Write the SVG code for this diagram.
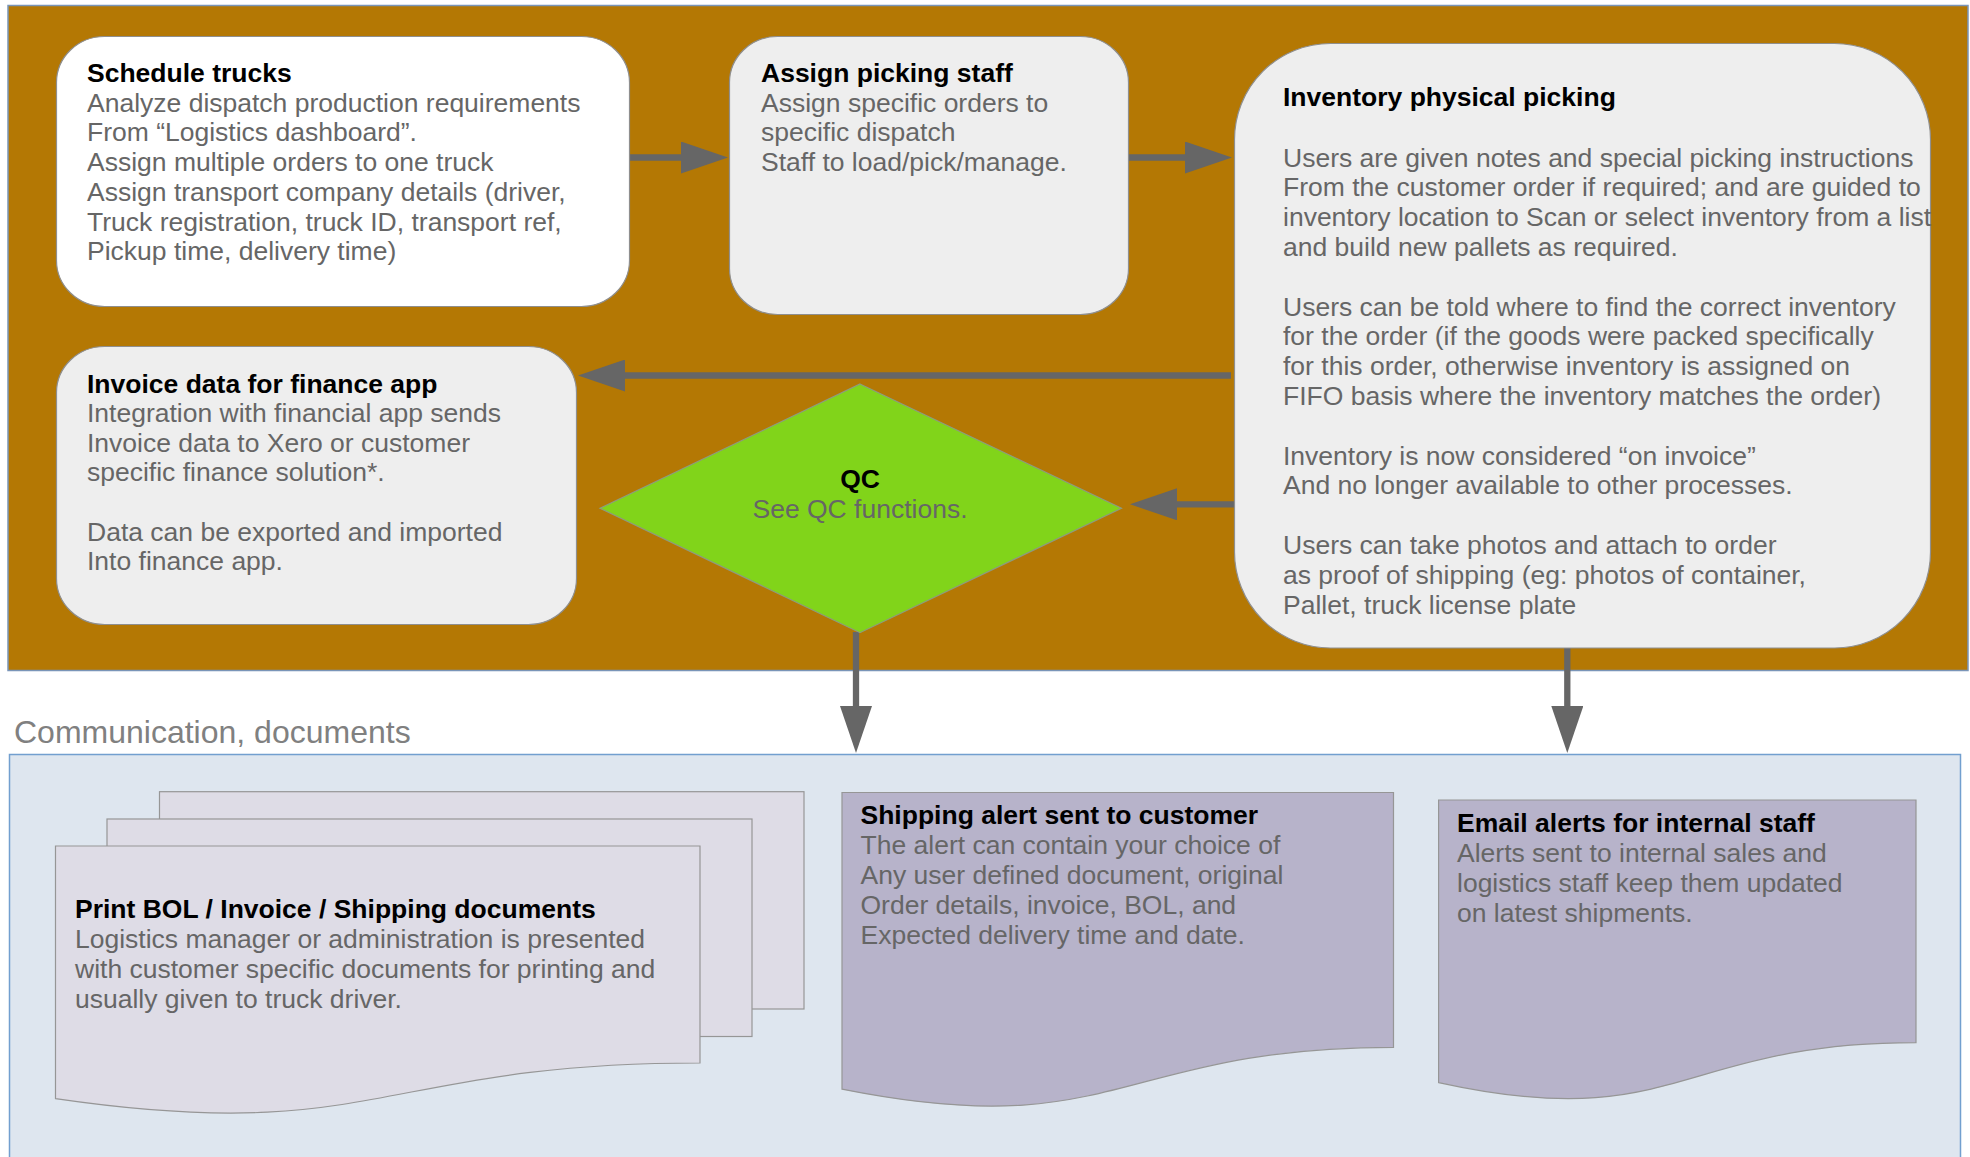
<svg xmlns="http://www.w3.org/2000/svg" width="1970" height="1157" viewBox="0 0 1970 1157">
<style>
  text { font-family: "Liberation Sans", Arial, sans-serif; font-size: 26.5px; }
  .t { font-weight: bold; fill: #000000; }
  .b { fill: #666666; }
  .box { stroke: #8f8f8f; stroke-width: 1.2; }
  .doc { stroke: #969696; stroke-width: 1.2; }
  .conn { stroke: #666666; stroke-width: 6.3; fill: none; }
</style>
<defs>
  <marker id="ah" markerUnits="userSpaceOnUse" markerWidth="48" markerHeight="32" refX="1" refY="16" orient="auto" viewBox="0 0 48 32">
    <path d="M0,0 L47,16 L0,32 Z" fill="#666666"/>
  </marker>
</defs>

<g id="lane-top">
  <rect x="8" y="5.5" width="1960" height="665" fill="#b47804" stroke="#7a95b8" stroke-width="1.5"/>
</g>
<g id="lane-bottom">
  <text x="14" y="743" style="font-size:32px" fill="#808080">Communication, documents</text>
  <rect x="9.5" y="754.5" width="1951" height="420" fill="#dee6ef" stroke="#729fcf" stroke-width="1.5"/>
</g>

<g id="connectors">
  <line class="conn" x1="630" y1="157.5" x2="682" y2="157.5" marker-end="url(#ah)"/>
  <line class="conn" x1="1129" y1="157.5" x2="1186" y2="157.5" marker-end="url(#ah)"/>
  <line class="conn" x1="1231" y1="375.5" x2="624" y2="375.5" marker-end="url(#ah)"/>
  <line class="conn" x1="1234" y1="504.3" x2="1176" y2="504.3" marker-end="url(#ah)"/>
  <line class="conn" x1="856" y1="632" x2="856" y2="707" marker-end="url(#ah)"/>
  <line class="conn" x1="1567.3" y1="648" x2="1567.3" y2="707" marker-end="url(#ah)"/>
</g>

<g id="schedule-trucks">
  <rect class="box" x="56.5" y="36.5" width="573" height="270" rx="48" ry="46" fill="#ffffff"/>
  <text class="t" x="87" y="82">Schedule trucks</text>
  <text class="b" x="87" y="111.5">Analyze dispatch production requirements</text>
  <text class="b" x="87" y="141.2">From “Logistics dashboard”.</text>
  <text class="b" x="87" y="171">Assign multiple orders to one truck</text>
  <text class="b" x="87" y="200.8">Assign transport company details (driver,</text>
  <text class="b" x="87" y="230.6">Truck registration, truck ID, transport ref,</text>
  <text class="b" x="87" y="260.4">Pickup time, delivery time)</text>
</g>

<g id="assign-picking-staff">
  <rect class="box" x="729.5" y="36.5" width="399" height="278" rx="48" ry="46" fill="#eeeeee"/>
  <text class="t" x="761" y="82">Assign picking staff</text>
  <text class="b" x="761" y="111.5">Assign specific orders to</text>
  <text class="b" x="761" y="141.2">specific dispatch</text>
  <text class="b" x="761" y="171">Staff to load/pick/manage.</text>
</g>

<g id="inventory-physical-picking">
  <rect class="box" x="1234.5" y="43.5" width="696" height="604.5" rx="96" ry="96" fill="#eeeeee"/>
  <text class="t" x="1283" y="106">Inventory physical picking</text>
  <text class="b" x="1283" y="166.5">Users are given notes and special picking instructions</text>
  <text class="b" x="1283" y="196.3">From the customer order if required; and are guided to</text>
  <text class="b" x="1283" y="226.1">inventory location to Scan or select inventory from a list</text>
  <text class="b" x="1283" y="255.9">and build new pallets as required.</text>
  <text class="b" x="1283" y="315.5">Users can be told where to find the correct inventory</text>
  <text class="b" x="1283" y="345.3">for the order (if the goods were packed specifically</text>
  <text class="b" x="1283" y="375.1">for this order, otherwise inventory is assigned on</text>
  <text class="b" x="1283" y="404.9">FIFO basis where the inventory matches the order)</text>
  <text class="b" x="1283" y="464.5">Inventory is now considered “on invoice”</text>
  <text class="b" x="1283" y="494.3">And no longer available to other processes.</text>
  <text class="b" x="1283" y="553.9">Users can take photos and attach to order</text>
  <text class="b" x="1283" y="583.7">as proof of shipping (eg: photos of container,</text>
  <text class="b" x="1283" y="613.5">Pallet, truck license plate</text>
</g>

<g id="invoice-data">
  <rect class="box" x="56.5" y="346.5" width="520" height="278" rx="48" ry="46" fill="#eeeeee"/>
  <text class="t" x="87" y="392.5">Invoice data for finance app</text>
  <text class="b" x="87" y="422">Integration with financial app sends</text>
  <text class="b" x="87" y="451.5">Invoice data to Xero or customer</text>
  <text class="b" x="87" y="481">specific finance solution*.</text>
  <text class="b" x="87" y="540.5">Data can be exported and imported</text>
  <text class="b" x="87" y="570">Into finance app.</text>
</g>

<g id="qc">
  <polygon points="860,384 1121.5,508.3 860,632.7 600,508.3" fill="#81d41a" stroke="#8e9a80" stroke-width="1.2"/>
  <text class="t" x="860" y="488" text-anchor="middle">QC</text>
  <text class="b" x="860" y="517.5" text-anchor="middle">See QC functions.</text>
</g>

<g id="print-documents">
  <rect class="doc" x="159.5" y="791.7" width="644.5" height="217.3" fill="#dedce6"/>
  <rect class="doc" x="107" y="819" width="645" height="217.5" fill="#dedce6"/>
  <path class="doc" d="M55.5,846 H700 V1063 C377.5,1063 377.5,1145.7 55.5,1098.7 Z" fill="#dedce6"/>
  <text class="t" x="75" y="918.3">Print BOL / Invoice / Shipping documents</text>
  <text class="b" x="75" y="948.3">Logistics manager or administration is presented</text>
  <text class="b" x="75" y="978">with customer specific documents for printing and</text>
  <text class="b" x="75" y="1007.5">usually given to truck driver.</text>
</g>

<g id="shipping-alert">
  <path class="doc" d="M842,792.5 H1393.5 V1047.3 C1117.7,1047.3 1117.7,1144.4 842,1089.2 Z" fill="#b7b3ca"/>
  <text class="t" x="860.5" y="824">Shipping alert sent to customer</text>
  <text class="b" x="860.5" y="854">The alert can contain your choice of</text>
  <text class="b" x="860.5" y="884">Any user defined document, original</text>
  <text class="b" x="860.5" y="914">Order details, invoice, BOL, and</text>
  <text class="b" x="860.5" y="944">Expected delivery time and date.</text>
</g>

<g id="email-alerts">
  <path class="doc" d="M1438.6,800 H1916 V1042.7 C1677.3,1042.7 1677.3,1135.1 1438.6,1082.6 Z" fill="#b7b3ca"/>
  <text class="t" x="1457" y="831.7">Email alerts for internal staff</text>
  <text class="b" x="1457" y="861.7">Alerts sent to internal sales and</text>
  <text class="b" x="1457" y="891.7">logistics staff keep them updated</text>
  <text class="b" x="1457" y="921.7">on latest shipments.</text>
</g>
</svg>
